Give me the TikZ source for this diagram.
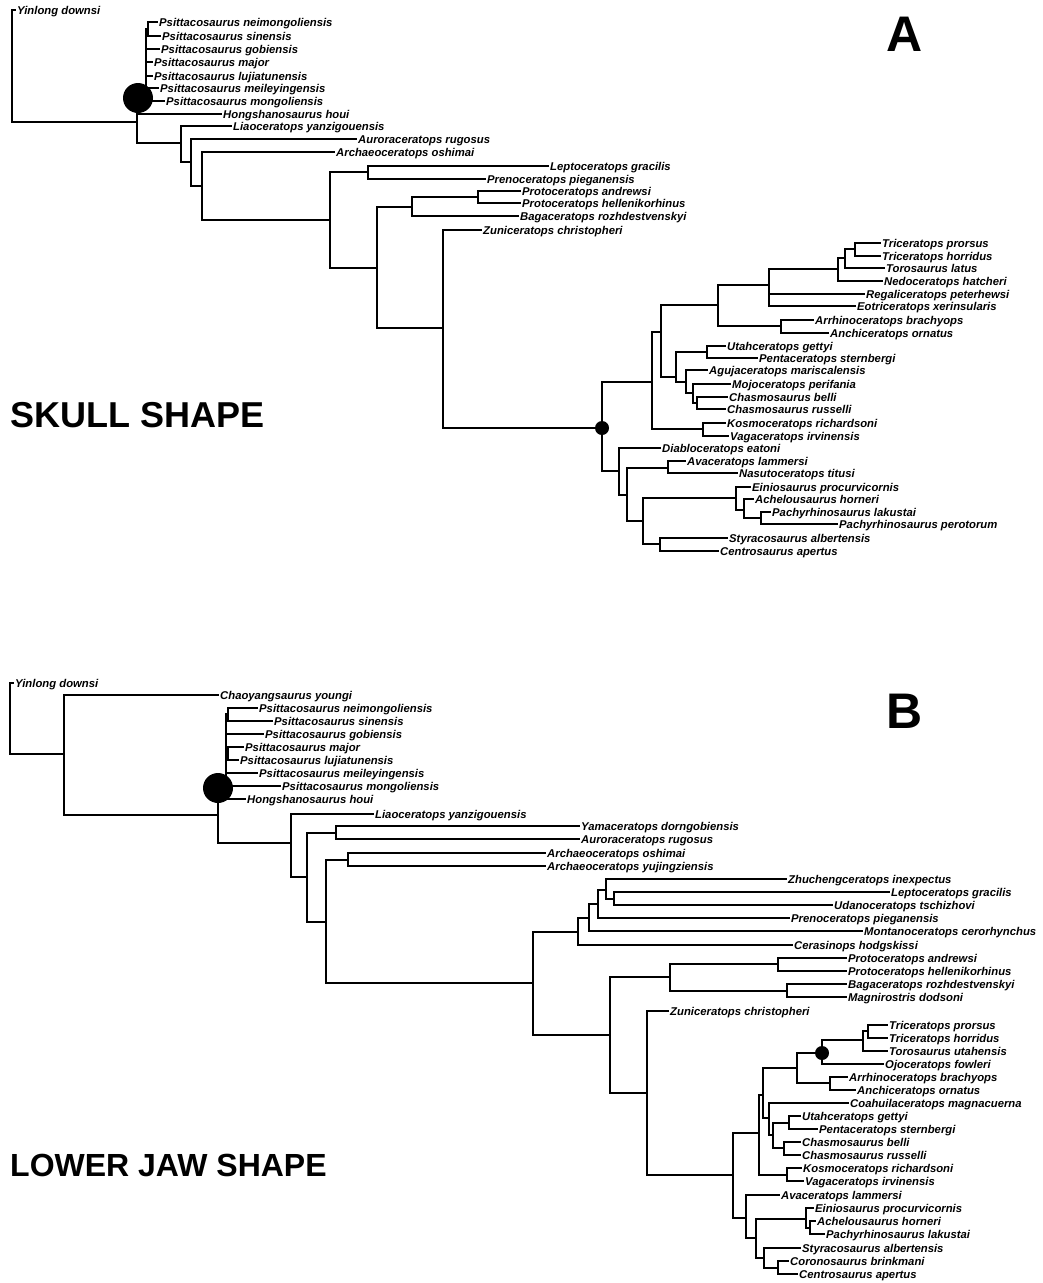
\documentclass[tikz,border=0pt]{standalone}
\usepackage{fontspec}
\setmainfont{Liberation Sans}

% one taxon: end of its branch plus its name
\newcommand{\taxon}[4]{\coordinate (#1) at (#2,#3); \node[tax] (#1l) at (#1) {#4};}
% square branches from a node to each child
\newcommand{\clade}[2]{\foreach \kid in {#2} \draw[branch] (#1) |- (\kid);}

\tikzset{
  branch/.style={line width=2pt, line cap=rect},
  tax/.style={anchor=base west, inner sep=0pt, xshift=2pt, yshift=-4pt,
    font=\bfseries\itshape\fontsize{11.3}{13}\selectfont},
  shapelabel/.style={anchor=west, inner sep=0pt, font=\bfseries\fontsize{36}{40}\selectfont},
  panel/.style={inner sep=0pt, font=\bfseries\fontsize{50}{55}\selectfont},
  knot/.style={fill=black}
}

\begin{document}
\begin{tikzpicture}[x=1pt, y=-1pt]
    \useasboundingbox (0,0) rectangle (1043,1283);

    %% tree A
    \taxon{aYin}{15}{10}{Yinlong downsi}
    \taxon{aPnei}{157}{22}{Psittacosaurus neimongoliensis}
    \taxon{aPsin}{160}{36}{Psittacosaurus sinensis}
    \taxon{aPgob}{159}{49}{Psittacosaurus gobiensis}
    \taxon{aPmaj}{152}{62}{Psittacosaurus major}
    \taxon{aPluj}{152}{76}{Psittacosaurus lujiatunensis}
    \taxon{aPmei}{158}{88}{Psittacosaurus meileyingensis}
    \taxon{aPmon}{164}{101}{Psittacosaurus mongoliensis}
    \taxon{aHong}{221}{114}{Hongshanosaurus houi}
    \taxon{aLiao}{231}{126}{Liaoceratops yanzigouensis}
    \taxon{aAuro}{356}{139}{Auroraceratops rugosus}
    \taxon{aArch}{334}{152}{Archaeoceratops oshimai}
    \taxon{aLept}{548}{166}{Leptoceratops gracilis}
    \taxon{aPren}{485}{179}{Prenoceratops pieganensis}
    \taxon{aProa}{520}{191}{Protoceratops andrewsi}
    \taxon{aProh}{520}{203}{Protoceratops hellenikorhinus}
    \taxon{aBaga}{518}{216}{Bagaceratops rozhdestvenskyi}
    \taxon{aZuni}{481}{230}{Zuniceratops christopheri}
    \taxon{aTpro}{880}{243}{Triceratops prorsus}
    \taxon{aThor}{880}{256}{Triceratops horridus}
    \taxon{aToro}{884}{268}{Torosaurus latus}
    \taxon{aNedo}{882}{281}{Nedoceratops hatcheri}
    \taxon{aRega}{864}{294}{Regaliceratops peterhewsi}
    \taxon{aEotr}{855}{306}{Eotriceratops xerinsularis}
    \taxon{aArrh}{813}{320}{Arrhinoceratops brachyops}
    \taxon{aAnch}{828}{333}{Anchiceratops ornatus}
    \taxon{aUtah}{725}{346}{Utahceratops gettyi}
    \taxon{aPent}{757}{358}{Pentaceratops sternbergi}
    \taxon{aAguj}{707}{370}{Agujaceratops mariscalensis}
    \taxon{aMojo}{730}{384}{Mojoceratops perifania}
    \taxon{aCbel}{727}{397}{Chasmosaurus belli}
    \taxon{aCrus}{725}{409}{Chasmosaurus russelli}
    \taxon{aKosm}{725}{423}{Kosmoceratops richardsoni}
    \taxon{aVaga}{728}{436}{Vagaceratops irvinensis}
    \taxon{aDiab}{660}{448}{Diabloceratops eatoni}
    \taxon{aAvac}{685}{461}{Avaceratops lammersi}
    \taxon{aNasu}{737}{473}{Nasutoceratops titusi}
    \taxon{aEini}{750}{487}{Einiosaurus procurvicornis}
    \taxon{aAche}{753}{499}{Achelousaurus horneri}
    \taxon{aPlak}{770}{512}{Pachyrhinosaurus lakustai}
    \taxon{aPper}{837}{524}{Pachyrhinosaurus perotorum}
    \taxon{aStyr}{727}{538}{Styracosaurus albertensis}
    \taxon{aCent}{718}{551}{Centrosaurus apertus}

    \coordinate (a0) at (12,122);   \coordinate (a1) at (137,122);
    \coordinate (aPs) at (146,98);  \coordinate (aPns) at (148,29);
    \coordinate (a2) at (181,143);  \coordinate (a3) at (191,162);
    \coordinate (a4) at (202,186);  \coordinate (a5) at (330,220);
    \coordinate (a6) at (368,172);  \coordinate (a7) at (377,268);
    \coordinate (a8) at (412,207);  \coordinate (a9) at (478,197);
    \coordinate (a10) at (443,328); \coordinate (a11) at (602,428);
    \coordinate (a12) at (652,382); \coordinate (a13) at (661,332);
    \coordinate (a14) at (703,429); \coordinate (a15) at (718,305);
    \coordinate (a16) at (769,285); \coordinate (a17) at (838,269);
    \coordinate (a18) at (845,258); \coordinate (aT) at (855,249);
    \coordinate (a19) at (781,326); \coordinate (a20) at (676,377);
    \coordinate (a21) at (707,352); \coordinate (a22) at (686,382);
    \coordinate (a23) at (693,393); \coordinate (a24) at (697,403);
    \coordinate (a30) at (619,471); \coordinate (a31) at (627,495);
    \coordinate (a32) at (668,468); \coordinate (a33) at (643,521);
    \coordinate (a34) at (736,498); \coordinate (a35) at (744,510);
    \coordinate (a36) at (761,518); \coordinate (a37) at (660,544);

    \clade{a0}{aYin,a1}
    \clade{a1}{aPs,aHong,a2}
    \clade{aPs}{aPns,aPgob,aPmaj,aPluj,aPmei,aPmon}
    \clade{aPns}{aPnei,aPsin}
    \clade{a2}{aLiao,a3}
    \clade{a3}{aAuro,a4}
    \clade{a4}{aArch,a5}
    \clade{a5}{a6,a7}
    \clade{a6}{aLept,aPren}
    \clade{a7}{a8,a10}
    \clade{a8}{a9,aBaga}
    \clade{a9}{aProa,aProh}
    \clade{a10}{aZuni,a11}
    \clade{a11}{a12,a30}
    \clade{a12}{a13,a14}
    \clade{a13}{a15,a20}
    \clade{a15}{a16,a19}
    \clade{a16}{a17,aRega,aEotr}
    \clade{a17}{a18,aNedo}
    \clade{a18}{aT,aToro}
    \clade{aT}{aTpro,aThor}
    \clade{a19}{aArrh,aAnch}
    \clade{a20}{a21,a22}
    \clade{a21}{aUtah,aPent}
    \clade{a22}{aAguj,a23}
    \clade{a23}{aMojo,a24}
    \clade{a24}{aCbel,aCrus}
    \clade{a14}{aKosm,aVaga}
    \clade{a30}{aDiab,a31}
    \clade{a31}{a32,a33}
    \clade{a32}{aAvac,aNasu}
    \clade{a33}{a34,a37}
    \clade{a34}{aEini,a35}
    \clade{a35}{aAche,a36}
    \clade{a36}{aPlak,aPper}
    \clade{a37}{aStyr,aCent}

    \fill[knot] (138,98) circle (15);
    \fill[knot] (a11) circle (7);
    \node[shapelabel] (skull) at (10,415) {SKULL SHAPE};
    \node[panel] (panelA) at (905,34) {A};

    %% tree B
    \taxon{bYin}{13}{683}{Yinlong downsi}
    \taxon{bChao}{218}{695}{Chaoyangsaurus youngi}
    \taxon{bPnei}{257}{708}{Psittacosaurus neimongoliensis}
    \taxon{bPsin}{272}{721}{Psittacosaurus sinensis}
    \taxon{bPgob}{263}{734}{Psittacosaurus gobiensis}
    \taxon{bPmaj}{243}{747}{Psittacosaurus major}
    \taxon{bPluj}{238}{760}{Psittacosaurus lujiatunensis}
    \taxon{bPmei}{257}{773}{Psittacosaurus meileyingensis}
    \taxon{bPmon}{280}{786}{Psittacosaurus mongoliensis}
    \taxon{bHong}{245}{799}{Hongshanosaurus houi}
    \taxon{bLiao}{373}{814}{Liaoceratops yanzigouensis}
    \taxon{bYama}{579}{826}{Yamaceratops dorngobiensis}
    \taxon{bAuro}{579}{839}{Auroraceratops rugosus}
    \taxon{bAosh}{545}{853}{Archaeoceratops oshimai}
    \taxon{bAyuj}{545}{866}{Archaeoceratops yujingziensis}
    \taxon{bZhuc}{786}{879}{Zhuchengceratops inexpectus}
    \taxon{bLept}{889}{892}{Leptoceratops gracilis}
    \taxon{bUdan}{832}{905}{Udanoceratops tschizhovi}
    \taxon{bPren}{789}{918}{Prenoceratops pieganensis}
    \taxon{bMont}{862}{931}{Montanoceratops cerorhynchus}
    \taxon{bCera}{792}{945}{Cerasinops hodgskissi}
    \taxon{bProa}{846}{958}{Protoceratops andrewsi}
    \taxon{bProh}{846}{971}{Protoceratops hellenikorhinus}
    \taxon{bBaga}{846}{984}{Bagaceratops rozhdestvenskyi}
    \taxon{bMagn}{846}{997}{Magnirostris dodsoni}
    \taxon{bZuni}{668}{1011}{Zuniceratops christopheri}
    \taxon{bTpro}{887}{1025}{Triceratops prorsus}
    \taxon{bThor}{887}{1038}{Triceratops horridus}
    \taxon{bToro}{887}{1051}{Torosaurus utahensis}
    \taxon{bOjoc}{883}{1064}{Ojoceratops fowleri}
    \taxon{bArrh}{847}{1077}{Arrhinoceratops brachyops}
    \taxon{bAnch}{855}{1090}{Anchiceratops ornatus}
    \taxon{bCoah}{848}{1103}{Coahuilaceratops magnacuerna}
    \taxon{bUtah}{800}{1116}{Utahceratops gettyi}
    \taxon{bPent}{817}{1129}{Pentaceratops sternbergi}
    \taxon{bCbel}{800}{1142}{Chasmosaurus belli}
    \taxon{bCrus}{800}{1155}{Chasmosaurus russelli}
    \taxon{bKosm}{801}{1168}{Kosmoceratops richardsoni}
    \taxon{bVaga}{803}{1181}{Vagaceratops irvinensis}
    \taxon{bAvac}{779}{1195}{Avaceratops lammersi}
    \taxon{bEini}{813}{1208}{Einiosaurus procurvicornis}
    \taxon{bAche}{815}{1221}{Achelousaurus horneri}
    \taxon{bPlak}{824}{1234}{Pachyrhinosaurus lakustai}
    \taxon{bStyr}{800}{1248}{Styracosaurus albertensis}
    \taxon{bCoro}{788}{1261}{Coronosaurus brinkmani}
    \taxon{bCent}{797}{1274}{Centrosaurus apertus}

    \coordinate (b0) at (10,754);    \coordinate (b1) at (64,754);
    \coordinate (b2) at (218,815);   \coordinate (bPs) at (226,788);
    \coordinate (bPns) at (228,714); \coordinate (bPmj) at (228,754);
    \coordinate (b3) at (291,843);   \coordinate (b4) at (307,877);
    \coordinate (b5) at (336,833);   \coordinate (b6) at (326,922);
    \coordinate (b7) at (348,860);   \coordinate (b8) at (533,983);
    \coordinate (b9) at (578,932);   \coordinate (b10) at (589,918);
    \coordinate (b11) at (598,904);  \coordinate (b12) at (606,890);
    \coordinate (b13) at (614,899);  \coordinate (b19) at (610,1035);
    \coordinate (b20) at (670,977);  \coordinate (b21) at (778,964);
    \coordinate (b22) at (787,991);  \coordinate (b23) at (647,1093);
    \coordinate (b24) at (733,1175); \coordinate (b25) at (759,1133);
    \coordinate (b26) at (763,1095); \coordinate (b27) at (797,1068);
    \coordinate (b28) at (822,1053); \coordinate (b28a) at (863,1040);
    \coordinate (bT) at (868,1031);  \coordinate (b29) at (830,1083);
    \coordinate (b30) at (769,1118); \coordinate (b30b) at (773,1135);
    \coordinate (b31) at (789,1123); \coordinate (b32) at (784,1148);
    \coordinate (b33) at (787,1175); \coordinate (b40) at (746,1218);
    \coordinate (b41) at (756,1238); \coordinate (b42) at (806,1219);
    \coordinate (b43) at (810,1228); \coordinate (b44) at (764,1258);
    \coordinate (b45) at (778,1268);

    \clade{b0}{bYin,b1}
    \clade{b1}{bChao,b2}
    \clade{b2}{bPs,b3}
    \clade{bPs}{bPns,bPgob,bPmj,bPmei,bPmon,bHong}
    \clade{bPns}{bPnei,bPsin}
    \clade{bPmj}{bPmaj,bPluj}
    \clade{b3}{bLiao,b4}
    \clade{b4}{b5,b6}
    \clade{b5}{bYama,bAuro}
    \clade{b6}{b7,b8}
    \clade{b7}{bAosh,bAyuj}
    \clade{b8}{b9,b19}
    \clade{b9}{b10,bCera}
    \clade{b10}{b11,bMont}
    \clade{b11}{b12,bPren}
    \clade{b12}{bZhuc,b13}
    \clade{b13}{bLept,bUdan}
    \clade{b19}{b20,b23}
    \clade{b20}{b21,b22}
    \clade{b21}{bProa,bProh}
    \clade{b22}{bBaga,bMagn}
    \clade{b23}{bZuni,b24}
    \clade{b24}{b25,b40}
    \clade{b25}{b26,b33}
    \clade{b26}{b27,b30}
    \clade{b27}{b28,b29}
    \clade{b28}{b28a,bOjoc}
    \clade{b28a}{bT,bToro}
    \clade{bT}{bTpro,bThor}
    \clade{b29}{bArrh,bAnch}
    \clade{b30}{bCoah,b30b}
    \clade{b30b}{b31,b32}
    \clade{b31}{bUtah,bPent}
    \clade{b32}{bCbel,bCrus}
    \clade{b33}{bKosm,bVaga}
    \clade{b40}{bAvac,b41}
    \clade{b41}{b42,b44}
    \clade{b42}{bEini,b43}
    \clade{b43}{bAche,bPlak}
    \clade{b44}{bStyr,b45}
    \clade{b45}{bCoro,bCent}

    \fill[knot] (b2 |- bPs) circle (15);
    \fill[knot] (b28) circle (7);
    \node[shapelabel, font=\bfseries\fontsize{32}{36}\selectfont] (jaw) at (10,1165) {LOWER JAW SHAPE};
    \node[panel] (panelB) at (905,711) {B};
\end{tikzpicture}
\end{document}
